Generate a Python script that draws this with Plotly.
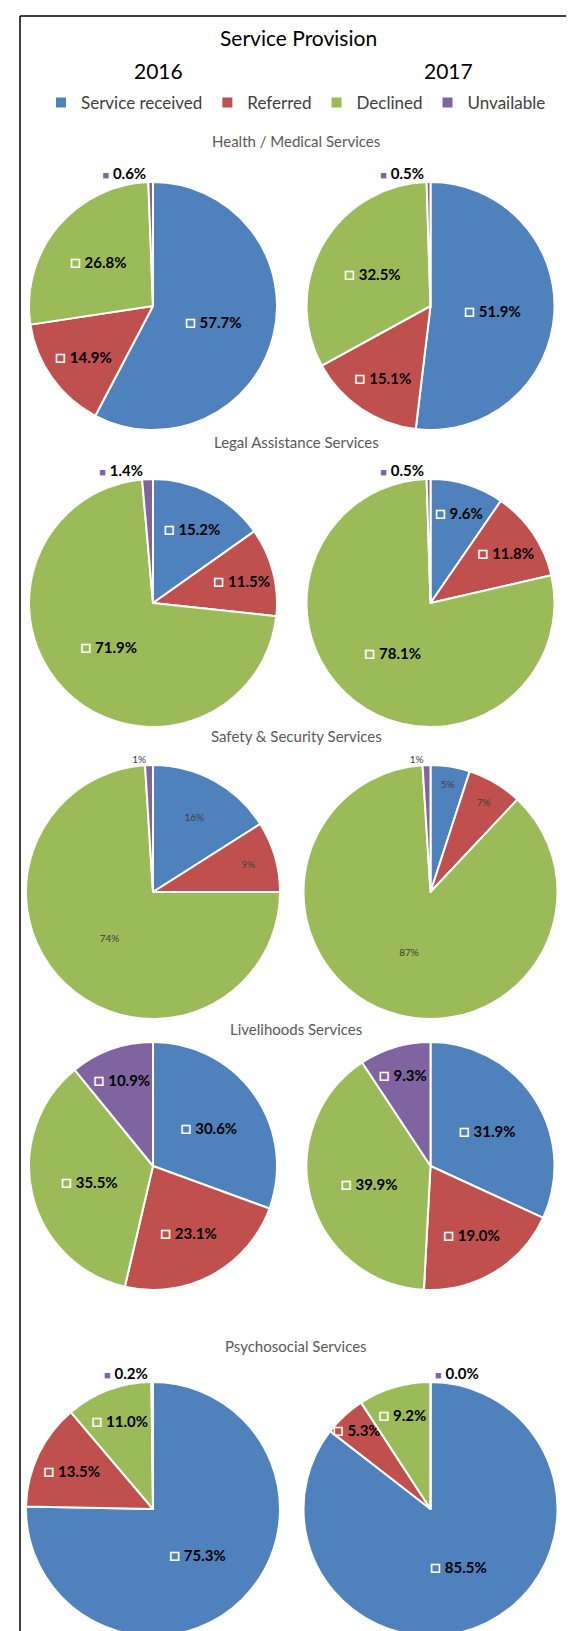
import plotly.graph_objects as go

W, H = 574, 1631

categories = ["Service received", "Referred", "Declined", "Unvailable"]
colors = ["#4F81BD", "#C0504D", "#9BBB59", "#8064A2"]

services = ["Health / Medical Services", "Legal Assistance Services",
            "Safety & Security Services", "Livelihoods Services",
            "Psychosocial Services"]
years = ["2016", "2017"]

health_2016 = [57.7, 14.9, 26.8, 0.6]
health_2017 = [51.9, 15.1, 32.5, 0.5]
legal_2016 = [15.2, 11.5, 71.9, 1.4]
legal_2017 = [9.6, 11.8, 78.1, 0.5]
safety_2016 = [16, 9, 74, 1]
safety_2017 = [5, 7, 87, 1]
livelihoods_2016 = [30.6, 23.1, 35.5, 10.9]
livelihoods_2017 = [31.9, 19.0, 39.9, 9.3]
psychosocial_2016 = [75.3, 13.5, 11.0, 0.2]
psychosocial_2017 = [85.5, 5.3, 9.2, 0.0]

data = [
    (health_2016, health_2017),
    (legal_2016, legal_2017),
    (safety_2016, safety_2017),
    (livelihoods_2016, livelihoods_2017),
    (psychosocial_2016, psychosocial_2017),
]

# layout geometry (pixels)
col_cx = [145, 422.5]
row_cy = [298, 595, 884, 1158, 1501]
row_r = [124, 124, 127, 124, 127]
subtitle_y = [133, 434, 728, 1021, 1338]
FONT = "Lato"

fig = go.Figure()

for i, (svc, pair) in enumerate(zip(services, data)):
    for j, vals in enumerate(pair):
        cx, cy, r = col_cx[j], row_cy[i], row_r[i]
        dom_x = [(cx - r) / W, (cx + r) / W]
        dom_y = [1 - (cy + r) / H, 1 - (cy - r) / H]
        safety = (i == 2)
        inside_purple = vals[3] >= 5
        if safety:
            small = "<span style='font-size:10px;fill:#404040'>%{value:.0f}%</span>"
            tmpl = [small] * 4
            pos = ["inside", "inside", "inside", "outside"]
        else:
            box = ("<span style='fill:white;font-size:18px;font-weight:bold'>□</span>"
                   " <b>%{value:.1f}%</b>")
            outbox = ("<span style='fill:#8064A2;font-size:11px'>■</span>"
                      " <b>%{value:.1f}%</b>")
            tmpl = [box, box, box, box if inside_purple else outbox]
            pos = ["inside", "inside", "inside",
                   "inside" if inside_purple else "outside"]
        fig.add_trace(go.Pie(
            labels=categories, values=vals, sort=False,
            direction="clockwise", rotation=0,
            marker=dict(colors=colors, line=dict(color="white", width=2)),
            texttemplate=tmpl, textposition=pos,
            textfont=dict(family=FONT, size=15, color="black"),
            insidetextorientation="horizontal",
            domain=dict(x=dom_x, y=dom_y),
            showlegend=(i == 0 and j == 0),
            hoverinfo="label+percent", automargin=False,
        ))

annotations = [
    dict(text="Service Provision", x=290 / W, y=1 - 30 / H, xref="paper", yref="paper",
         showarrow=False, font=dict(family=FONT, size=21, color="black"),
         xanchor="center", yanchor="middle"),
    dict(text=years[0], x=150 / W, y=1 - 62 / H, xref="paper", yref="paper",
         showarrow=False, font=dict(family=FONT, size=21, color="black"),
         xanchor="center", yanchor="middle"),
    dict(text=years[1], x=440 / W, y=1 - 62 / H, xref="paper", yref="paper",
         showarrow=False, font=dict(family=FONT, size=21, color="black"),
         xanchor="center", yanchor="middle"),
]
for svc, sy in zip(services, subtitle_y):
    annotations.append(dict(text=svc, x=288 / W, y=1 - sy / H, xref="paper", yref="paper",
                            showarrow=False, font=dict(family=FONT, size=15, color="#595959"),
                            xanchor="center", yanchor="middle"))

shapes = [
    dict(type="line", xref="paper", yref="paper", x0=12 / W, x1=12 / W, y0=0, y1=1 - 8 / H,
         line=dict(color="black", width=1.5)),
    dict(type="line", xref="paper", yref="paper", x0=12 / W, x1=1, y0=1 - 8 / H, y1=1 - 8 / H,
         line=dict(color="black", width=1.5)),
]

fig.update_layout(
    width=W, height=H,
    margin=dict(l=0, r=0, t=0, b=0),
    paper_bgcolor="white", plot_bgcolor="white",
    font=dict(family=FONT),
    annotations=annotations, shapes=shapes,
    uniformtext=dict(minsize=15, mode="show"),
    legend=dict(orientation="h", x=288 / W, xanchor="center", y=1 - 95 / H, yanchor="middle",
                font=dict(family=FONT, size=17, color="#404040"), itemwidth=30,
                traceorder="normal", bgcolor="rgba(0,0,0,0)"),
)

fig.write_html("out.html")
